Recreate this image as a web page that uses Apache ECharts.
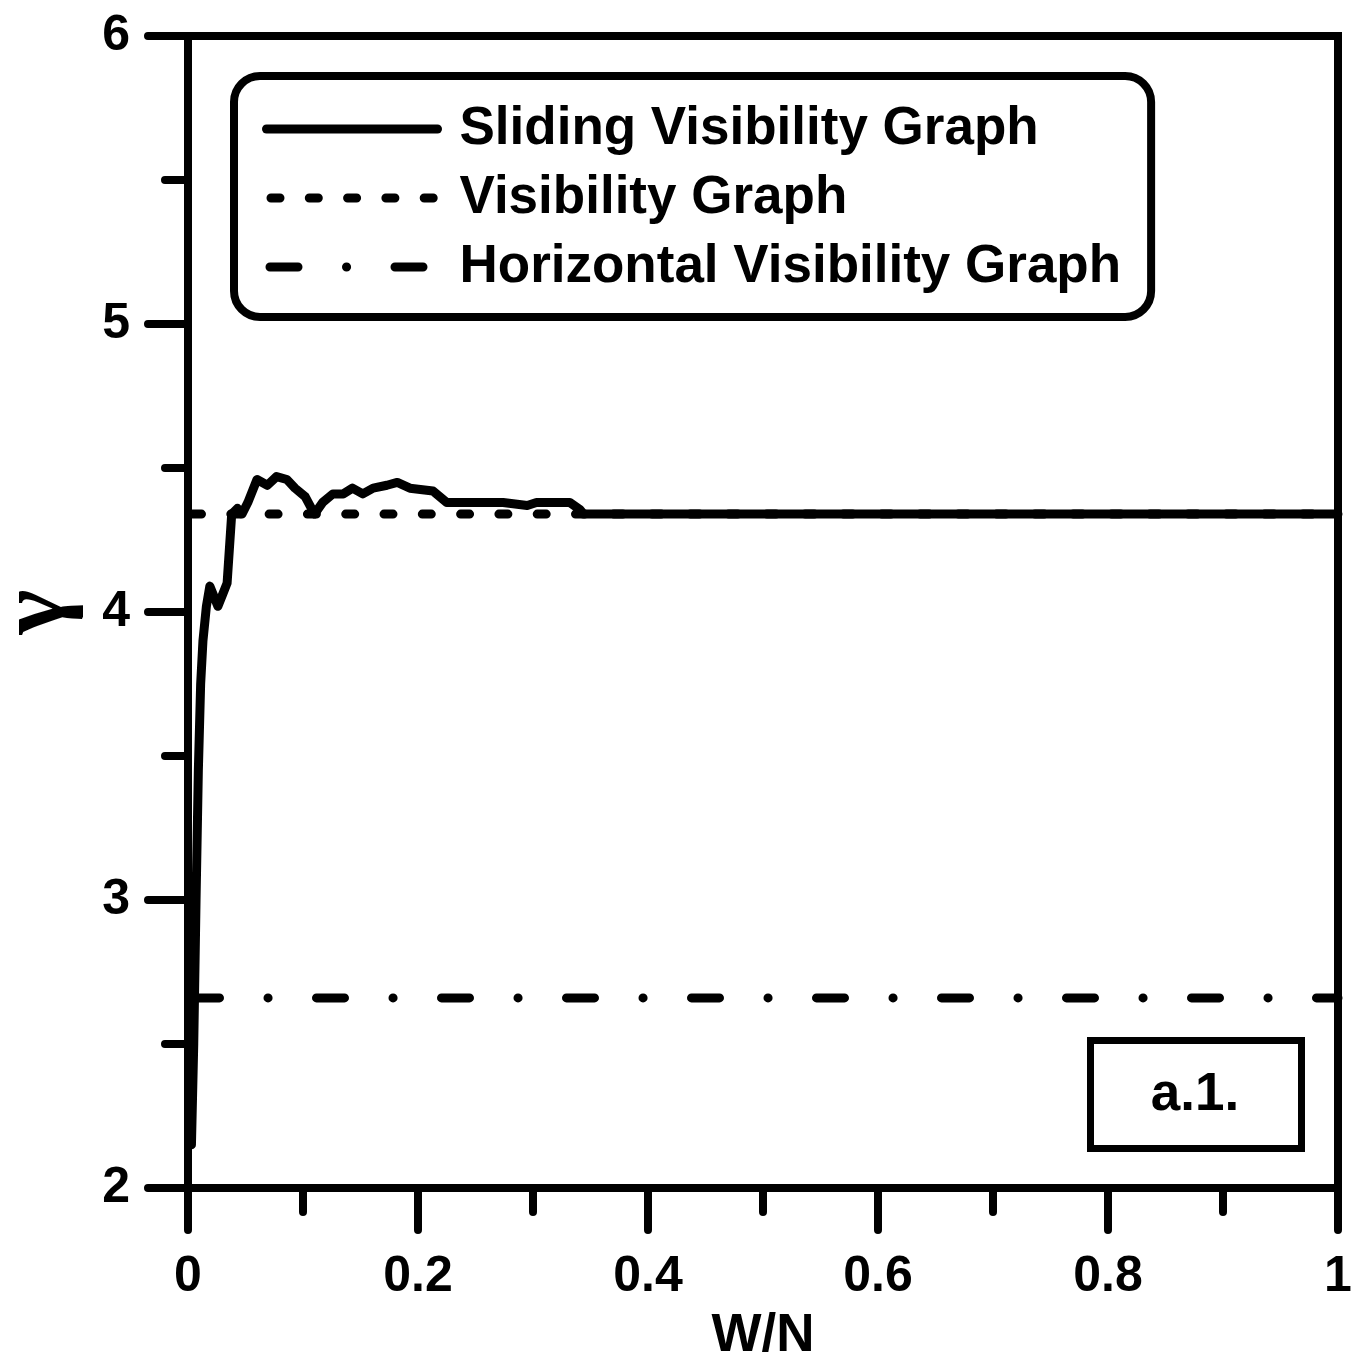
<!DOCTYPE html>
<html>
<head>
<meta charset="utf-8">
<script src="https://cdn.jsdelivr.net/npm/echarts@6/dist/echarts.min.js"></script>
<style>
  html, body { margin: 0; padding: 0; background: #fff; }
  #chart { width: 1352px; height: 1361px; }
</style>
</head>
<body>
<div id="chart"></div>
<script>
// W/N values and gamma for the sliding visibility graph
const slidingX = [0.003, 0.005, 0.007, 0.009, 0.011, 0.013, 0.016, 0.019, 0.026, 0.030, 0.034, 0.038, 0.043, 0.047, 0.052, 0.060, 0.069, 0.077, 0.086, 0.093, 0.102, 0.110, 0.117, 0.126, 0.135, 0.143, 0.152, 0.161, 0.173, 0.182, 0.193, 0.213, 0.225, 0.274, 0.295, 0.303, 0.332, 0.341, 0.344, 1.0]
const slidingY = [2.15, 2.50, 3.00, 3.45, 3.75, 3.90, 4.02, 4.09, 4.02, 4.06, 4.10, 4.34, 4.36, 4.34, 4.38, 4.46, 4.44, 4.47, 4.46, 4.43, 4.40, 4.34, 4.38, 4.41, 4.41, 4.43, 4.41, 4.43, 4.44, 4.45, 4.43, 4.42, 4.38, 4.38, 4.37, 4.38, 4.38, 4.355, 4.34, 4.34]
// constant gamma for the whole-series graphs
const visibilityX = [0, 1]
const visibilityY = [4.34, 4.34]
const horizontalX = [0, 1]
const horizontalY = [2.66, 2.66]
const seriesNames = ['Sliding Visibility Graph', 'Visibility Graph', 'Horizontal Visibility Graph']

const zip = (xs, ys) => xs.map((x, i) => [x, ys[i]])
const font = 'Liberation Sans, Arial, sans-serif'

const myChart = echarts.init(document.getElementById('chart'))
myChart.setOption({
  animation: false,
  grid: {
    left: 188,
    right: 14,
    top: 36,
    bottom: 173,
    outerBoundsMode: 'none',
    containLabel: false,
    show: true,
    borderColor: '#000',
    borderWidth: 8
  },
  legend: {
    orient: 'vertical',
    left: 234,
    top: 76,
    padding: [25, 30, 22, 28],
    borderColor: '#000',
    borderWidth: 8,
    borderRadius: 26,
    backgroundColor: '#fff',
    itemWidth: 171,
    itemHeight: 14,
    itemGap: 13,
    selectedMode: false,
    itemStyle: { opacity: 0 },
    lineStyle: { width: 9, cap: 'round' },
    textStyle: {
      fontFamily: font,
      fontWeight: 'bold',
      fontSize: 53,
      lineHeight: 56,
      color: '#000',
      padding: [0, 0, 0, 17]
    },
    data: seriesNames
  },
  xAxis: {
    type: 'value',
    min: 0,
    max: 1,
    interval: 0.2,
    name: 'W/N',
    nameLocation: 'middle',
    nameGap: 122,
    nameTextStyle: { fontFamily: font, fontWeight: 'bold', fontSize: 53, color: '#000' },
    axisLine: { lineStyle: { color: '#000', width: 8 } },
    axisTick: { inside: false, length: 42, lineStyle: { color: '#000', width: 8, cap: 'round' } },
    minorTick: { show: true, splitNumber: 2, length: 24, lineStyle: { color: '#000', width: 8, cap: 'round' } },
    splitLine: { show: false },
    axisLabel: { margin: 64, fontFamily: font, fontWeight: 'bold', fontSize: 50, color: '#000' }
  },
  yAxis: {
    type: 'value',
    min: 2,
    max: 6,
    interval: 1,
    name: 'γ',
    nameLocation: 'middle',
    nameRotate: 90,
    nameGap: 102,
    nameTextStyle: { fontFamily: 'Liberation Serif, serif', fontWeight: 'bold', fontSize: 96, color: '#000' },
    axisLine: { lineStyle: { color: '#000', width: 8 } },
    axisTick: { inside: false, length: 40, lineStyle: { color: '#000', width: 8, cap: 'round' } },
    minorTick: { show: true, splitNumber: 2, length: 23, lineStyle: { color: '#000', width: 8, cap: 'round' } },
    splitLine: { show: false },
    axisLabel: { margin: 58, fontFamily: font, fontWeight: 'bold', fontSize: 50, color: '#000' }
  },
  graphic: [
    {
      type: 'rect',
      left: 1087,
      top: 1037,
      shape: { width: 211, height: 108 },
      style: { fill: '#fff', stroke: '#000', lineWidth: 7 },
      z: 10
    },
    {
      type: 'text',
      x: 1195,
      y: 1095,
      style: {
        text: 'a.1.',
        fontFamily: font,
        fontWeight: 'bold',
        fontSize: 53,
        fill: '#000',
        align: 'center',
        verticalAlign: 'middle'
      },
      z: 11
    }
  ],
  series: [
    {
      name: seriesNames[1],
      type: 'line',
      showSymbol: false,
      symbol: 'none',
      data: zip(visibilityX, visibilityY),
      lineStyle: { color: '#000', width: 9, type: [9, 29.3], dashOffset: 33.8, cap: 'round' },
      z: 2
    },
    {
      name: seriesNames[2],
      type: 'line',
      showSymbol: false,
      symbol: 'none',
      data: zip(horizontalX, horizontalY),
      lineStyle: { color: '#000', width: 9, type: [28, 48.5, 0.1, 48.4], dashOffset: 121.5, cap: 'round' },
      z: 2
    },
    {
      name: seriesNames[0],
      type: 'line',
      showSymbol: false,
      symbol: 'none',
      data: zip(slidingX, slidingY),
      lineStyle: { color: '#000', width: 9, join: 'round', cap: 'round' },
      z: 3
    }
  ]
})
</script>
</body>
</html>
